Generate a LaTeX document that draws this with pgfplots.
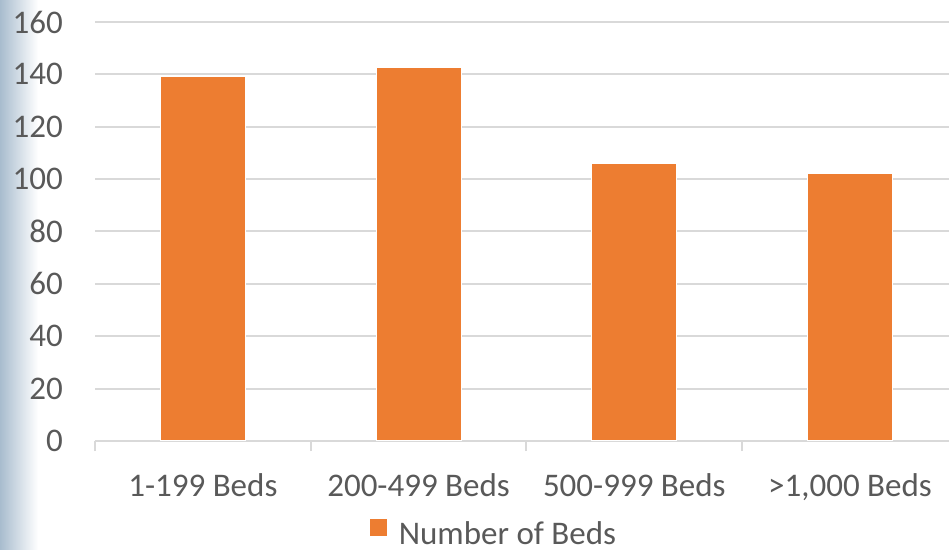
\documentclass[border=0pt]{standalone}
\usepackage{fontspec}
\setmainfont{Carlito}
\usepackage{pgfplots}
\pgfplotsset{compat=1.18}
\definecolor{barorange}{HTML}{ED7D31}
\definecolor{gridgray}{HTML}{D9D9D9}
\definecolor{txtgray}{HTML}{595959}
\definecolor{edgeblue}{HTML}{A8BCCE}
\begin{document}
\fontsize{33bp}{40bp}\selectfont
\begin{tikzpicture}
\shade[left color=edgeblue, right color=white] (0,0) rectangle (38bp,550bp);
\begin{axis}[
  at={(95bp,109bp)}, anchor=south west,
  scale only axis, width=854bp, height=419bp,
  ymin=0, ymax=160, ytick={0,20,...,160},
  xmin=-0.5, xmax=3.459,
  xtick={0,1,2,3},
  xticklabels={1-199 Beds,200-499 Beds,500-999 Beds,>1{,}000 Beds},
  extra x ticks={-0.5,0.5,1.5,2.5},
  extra x tick labels={},
  extra x tick style={major tick length=10bp, tick align=outside,
     tick style={draw=gridgray, line width=2bp}},
  major tick length=0pt,
  axis x line*=bottom, axis y line*=left,
  y axis line style={draw=none},
  x axis line style={draw=gridgray, line width=2bp},
  ytick style={draw=none},
  ymajorgrids, grid style={draw=gridgray, line width=2bp},
  /pgf/number format/assume math mode=true,
  tick label style={font=\fontsize{33bp}{40bp}\selectfont, text=txtgray},
  yticklabel style={anchor=east, inner sep=0pt, xshift=-32bp},
  xticklabel style={anchor=base, inner sep=0pt, yshift=-55bp},
  ybar, bar width=85bp, bar shift=0pt,
  legend style={at={(0.466,-0.222)}, anchor=center, draw=none, fill=none,
     inner sep=0pt, outer sep=0pt,
     font=\fontsize{33bp}{40bp}\selectfont, text=txtgray,
     nodes={inner sep=0pt},
     /tikz/every odd column/.append style={column sep=12bp}},
  legend image code/.code={\fill[barorange] (0bp,0bp) rectangle (16bp,16bp);},
]
\addplot[fill=barorange, draw=white, line width=1bp] coordinates {(0,139) (1,142.8) (2,106.1) (3,102.3)};
\addlegendentry{Number of Beds}
\end{axis}
\pgfresetboundingbox
\path[use as bounding box] (0,0) rectangle (949bp,550bp);
\end{tikzpicture}
\end{document}
